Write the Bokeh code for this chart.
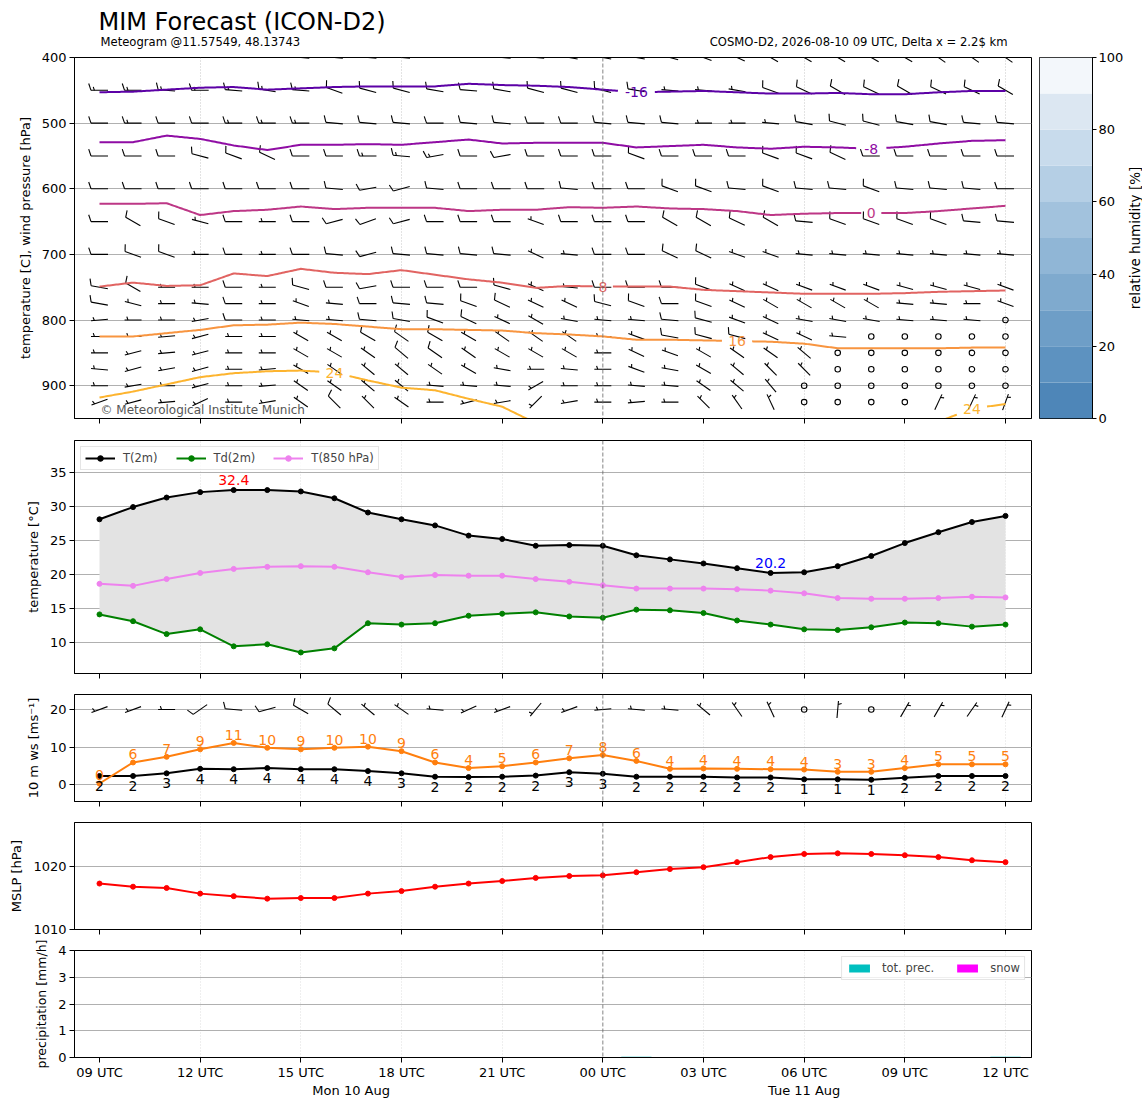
import math
import numpy as np
from bokeh.plotting import figure
from bokeh.models import Range1d, FixedTicker, Label, Span, LinearAxis
from bokeh.layouts import column, row
from bokeh.embed import file_html
from bokeh.resources import INLINE
from bokeh.core.properties import value

FONT = "DejaVu Sans"

# ---------------- data ----------------
lead_h = [0, 1, 2, 3, 4, 5, 6, 7, 8, 9, 10, 11, 12, 13, 14, 15, 16, 17, 18, 19, 20, 21, 22, 23, 24, 25, 26, 27]
tick_hours = [0, 3, 6, 9, 12, 15, 18, 21, 24, 27]
tick_labels = ["09 UTC", "12 UTC", "15 UTC", "18 UTC", "21 UTC", "00 UTC", "03 UTC", "06 UTC", "09 UTC", "12 UTC"]
midnight_h = 15
day_labels = ["Mon 10 Aug", "Tue 11 Aug"]
day_label_h = [7.5, 21.0]

title_text = "MIM Forecast (ICON-D2)"
subtitle_left = "Meteogram @11.57549, 48.13743"
subtitle_right = "COSMO-D2, 2026-08-10 09 UTC, Delta x = 2.2$ km"
copyright_text = "\u00a9 Meteorological Institute Munich"
rh_label = "relative humidity [%]"

t2m = [28.1, 29.9, 31.3, 32.1, 32.4, 32.4, 32.2, 31.2, 29.1, 28.1, 27.2, 25.7, 25.2, 24.2,
       24.3, 24.2, 22.8, 22.2, 21.6, 20.9, 20.2, 20.3, 21.2, 22.7, 24.6, 26.2, 27.7, 28.6]
td2m = [14.1, 13.1, 11.2, 11.9, 9.4, 9.7, 8.5, 9.1, 12.8, 12.6, 12.8, 13.9, 14.2, 14.4,
        13.8, 13.6, 14.8, 14.7, 14.3, 13.2, 12.6, 11.9, 11.8, 12.2, 12.9, 12.8, 12.3, 12.6]
t850 = [18.6, 18.3, 19.3, 20.2, 20.8, 21.1, 21.2, 21.1, 20.3, 19.6, 19.9, 19.8, 19.8, 19.3,
        18.9, 18.4, 17.9, 17.9, 17.9, 17.8, 17.6, 17.2, 16.5, 16.4, 16.4, 16.5, 16.7, 16.6]
ws10 = [2.3, 2.3, 3.0, 4.2, 4.1, 4.4, 4.1, 4.1, 3.6, 3.0, 2.1, 2.0, 2.1, 2.4,
        3.3, 2.9, 2.1, 2.1, 2.1, 1.9, 1.9, 1.4, 1.4, 1.3, 1.8, 2.3, 2.3, 2.3]
gust10 = [0.3, 5.9, 7.4, 9.4, 11.1, 9.8, 9.4, 9.8, 10.1, 8.9, 5.9, 4.4, 4.9, 5.9,
          7.0, 7.9, 6.3, 4.2, 4.3, 4.2, 4.1, 4.0, 3.4, 3.4, 4.4, 5.4, 5.4, 5.4]
mslp = [1017.3, 1016.8, 1016.6, 1015.7, 1015.3, 1014.9, 1015.0, 1015.0, 1015.7, 1016.1,
        1016.8, 1017.3, 1017.7, 1018.2, 1018.5, 1018.6, 1019.1, 1019.6, 1019.9, 1020.7,
        1021.5, 1022.0, 1022.1, 1022.0, 1021.8, 1021.5, 1021.0, 1020.7]
tot_prec = [0, 0, 0, 0, 0, 0, 0, 0, 0, 0, 0, 0, 0, 0, 0, 0, 0.03, 0, 0, 0, 0, 0, 0, 0, 0, 0, 0, 0.03]
snow = [0, 0, 0, 0, 0, 0, 0, 0, 0, 0, 0, 0, 0, 0, 0, 0, 0, 0, 0, 0, 0, 0, 0, 0, 0, 0, 0, 0]

# isotherms (pressure in hPa of each isotherm per hour)
nan = float("nan")
iso_levels = [-16, -8, 0, 8, 16, 24]
iso_m16 = [453, 452, 449, 446, 445, 449, 447, 445, 444, 444, 444, 440, 442, 443, 445, 449, 453, 452, 451, 453, 455, 455, 454, 456, 456, 453, 451, 451]
iso_m8 = [529, 529, 519, 524, 534, 541, 533, 533, 532, 533, 529, 525, 531, 530, 530, 530, 537, 535, 533, 537, 539, 536, 537, 539, 536, 531, 527, 526]
iso_0 = [623, 623, 622, 640, 634, 632, 627, 631, 629, 629, 629, 634, 632, 632, 628, 629, 627, 630, 631, 634, 640, 638, 637, 637, 637, 634, 630, 626]
iso_8 = [749, 743, 748, 747, 729, 733, 722, 728, 730, 724, 731, 738, 743, 751, 748, 749, 749, 749, 754, 756, 758, 760, 760, 760, 759, 757, 756, 755]
iso_16 = [825, 825, 820, 815, 808, 807, 804, 806, 810, 814, 814, 815, 816, 820, 822, 825, 830, 830, 831, 832, 833, 836, 843, 843, 843, 843, 842, 842]
iso_24 = [918, 909, 898, 887, 881, 878, 877, 880, 892, 903, 907, 920, 932, 957, nan, nan, nan, nan, nan, nan, nan, nan, nan, nan, nan, 955, 935, 928]
iso_lines = [iso_m16, iso_m8, iso_0, iso_8, iso_16, iso_24]
iso_label_cols = [[16], [23], [23], [15], [19], [7, 26]]
iso_colors = ["#5c01a6", "#8f0da4", "#bd3786", "#e16462", "#f89540", "#fdb42f"]

# wind barbs: direction the wind blows from (deg) and speed (barb units: 5 = half, 10 = full, 0 = calm)
barb_levels = [400, 450, 500, 550, 600, 650, 700, 750, 775, 800, 825, 850, 875, 900, 925]
wdir_400 = [270, 270, 270, 270, 270, 270, 275, 275, 275, 275, 270, 270, 275, 275, 280, 280, 280, 285, 290, 295, 300, 300, 300, 300, 300, 305, 305, 305]
wspd_400 = [10, 10, 10, 10, 10, 10, 10, 10, 10, 10, 10, 10, 10, 10, 10, 10, 10, 10, 10, 10, 10, 10, 10, 10, 10, 10, 10, 10]
wdir_450 = [270, 270, 275, 270, 275, 280, 275, 290, 285, 285, 280, 275, 280, 285, 285, 285, 280, 275, 275, 280, 290, 295, 300, 295, 300, 295, 295, 300]
wspd_450 = [15, 15, 15, 15, 15, 15, 15, 10, 10, 10, 10, 10, 10, 10, 10, 10, 10, 5, 5, 5, 10, 10, 10, 10, 10, 10, 10, 10]
wdir_500 = [270, 270, 270, 270, 270, 270, 270, 275, 275, 275, 270, 275, 275, 270, 270, 275, 275, 275, 270, 270, 275, 280, 285, 285, 280, 280, 275, 275]
wspd_500 = [10, 15, 10, 10, 15, 15, 15, 10, 10, 10, 10, 10, 10, 10, 10, 10, 10, 10, 5, 5, 5, 10, 10, 10, 10, 10, 10, 10]
wdir_550 = [270, 270, 270, 285, 290, 295, 270, 270, 270, 275, 260, 270, 260, 270, 270, 270, 290, 270, 270, 270, 290, 290, 295, 270, 270, 270, 270, 270]
wspd_550 = [10, 10, 10, 10, 10, 10, 10, 10, 15, 15, 15, 10, 10, 10, 10, 10, 10, 10, 10, 10, 10, 10, 10, 10, 10, 10, 10, 10]
wdir_600 = [270, 270, 270, 270, 270, 270, 270, 275, 260, 255, 275, 270, 270, 270, 275, 270, 270, 290, 290, 275, 290, 275, 275, 290, 275, 275, 275, 270]
wspd_600 = [10, 10, 10, 10, 10, 10, 10, 10, 10, 10, 10, 10, 10, 10, 10, 10, 10, 10, 10, 10, 10, 10, 10, 10, 10, 10, 10, 10]
wdir_650 = [270, 300, 290, 285, 270, 270, 270, 255, 250, 255, 270, 270, 270, 290, 270, 270, 270, 300, 300, 295, 300, 275, 290, 290, 290, 290, 275, 275]
wspd_650 = [10, 10, 10, 5, 10, 5, 10, 10, 10, 10, 10, 10, 10, 5, 10, 10, 10, 10, 10, 10, 10, 10, 10, 10, 10, 10, 10, 10]
wdir_700 = [270, 290, 290, 270, 270, 270, 270, 275, 255, 275, 275, 275, 275, 295, 275, 270, 270, 295, 295, 290, 290, 275, 275, 275, 275, 275, 275, 275]
wspd_700 = [10, 10, 10, 5, 10, 5, 10, 10, 10, 10, 10, 10, 10, 5, 5, 10, 10, 10, 10, 5, 5, 5, 5, 5, 5, 5, 5, 5]
wdir_750 = [280, 300, 270, 270, 270, 270, 285, 270, 260, 270, 270, 270, 285, 295, 275, 270, 270, 270, 290, 295, 295, 290, 290, 290, 285, 285, 285, 290]
wspd_750 = [10, 10, 5, 5, 10, 5, 10, 10, 10, 10, 10, 10, 10, 5, 5, 10, 10, 10, 10, 5, 5, 5, 5, 5, 5, 5, 5, 5]
wdir_775 = [280, 285, 270, 275, 270, 270, 290, 275, 270, 275, 275, 290, 295, 295, 295, 285, 290, 270, 290, 295, 300, 300, 300, 300, 275, 275, 270, 290]
wspd_775 = [10, 5, 5, 5, 10, 5, 5, 5, 10, 10, 10, 10, 10, 5, 5, 10, 10, 10, 10, 5, 5, 5, 5, 5, 5, 5, 5, 5]
wdir_800 = [265, 270, 270, 260, 270, 270, 275, 275, 275, 280, 290, 295, 295, 300, 280, 275, 275, 275, 285, 290, 295, 280, 280, 280, 275, 275, 275, 0]
wspd_800 = [5, 5, 5, 5, 10, 5, 5, 5, 10, 10, 10, 10, 5, 5, 5, 5, 5, 10, 10, 5, 5, 5, 5, 5, 5, 5, 5, 0]
wdir_825 = [270, 270, 265, 255, 270, 270, 300, 300, 300, 305, 300, 300, 305, 305, 305, 270, 290, 280, 285, 285, 295, 295, 275, 0, 0, 0, 0, 0]
wspd_825 = [5, 5, 5, 5, 5, 5, 5, 5, 10, 10, 10, 5, 5, 5, 5, 5, 5, 10, 10, 10, 5, 5, 5, 0, 0, 0, 0, 0]
wdir_850 = [270, 255, 265, 255, 270, 270, 300, 300, 305, 310, 305, 305, 300, 300, 300, 270, 295, 290, 300, 305, 305, 310, 0, 0, 0, 0, 0, 0]
wspd_850 = [5, 5, 5, 5, 5, 5, 5, 5, 5, 10, 10, 5, 5, 5, 5, 5, 5, 5, 5, 5, 5, 5, 0, 0, 0, 0, 0, 0]
wdir_875 = [275, 255, 260, 255, 270, 265, 300, 305, 310, 310, 305, 300, 280, 270, 275, 270, 290, 280, 300, 310, 315, 315, 0, 0, 0, 0, 0, 0]
wspd_875 = [5, 5, 5, 5, 5, 5, 5, 5, 5, 5, 5, 5, 5, 5, 5, 5, 5, 5, 5, 5, 5, 5, 0, 0, 0, 0, 0, 0]
wdir_900 = [270, 260, 270, 255, 270, 265, 305, 305, 310, 310, 275, 275, 275, 240, 270, 270, 275, 275, 305, 310, 320, 0, 0, 0, 0, 0, 0, 0]
wspd_900 = [5, 5, 5, 5, 5, 5, 5, 5, 5, 5, 5, 5, 5, 5, 5, 5, 5, 5, 5, 5, 5, 0, 0, 0, 0, 0, 0, 0]
wdir_925 = [250, 255, 265, 245, 270, 260, 305, 315, 315, 305, 270, 255, 260, 225, 260, 270, 265, 270, 315, 325, 335, 0, 0, 0, 0, 25, 25, 20]
wspd_925 = [5, 5, 5, 5, 5, 5, 5, 10, 5, 5, 5, 5, 5, 5, 5, 5, 5, 5, 5, 5, 5, 0, 0, 0, 0, 5, 5, 5]
barb_dirs = [wdir_400, wdir_450, wdir_500, wdir_550, wdir_600, wdir_650, wdir_700, wdir_750,
             wdir_775, wdir_800, wdir_825, wdir_850, wdir_875, wdir_900, wdir_925]
barb_spds = [wspd_400, wspd_450, wspd_500, wspd_550, wspd_600, wspd_650, wspd_700, wspd_750,
             wspd_775, wspd_800, wspd_825, wspd_850, wspd_875, wspd_900, wspd_925]
wdir_10m = [250, 250, 270, 235, 275, 255, 300, 310, 310, 305, 275, 245, 250, 220, 250, 265, 275, 275, 310, 325, 335, 0, 5, 0, 30, 30, 35, 25]
wspd_10m = [5, 5, 5, 10, 10, 10, 10, 10, 5, 5, 5, 5, 5, 5, 5, 5, 5, 5, 5, 5, 5, 0, 5, 0, 5, 5, 5, 5]

rh_levels = [0, 10, 20, 30, 40, 50, 60, 70, 80, 90, 100]
rh_ticks = [0, 20, 40, 60, 80, 100]
rh_colors = ["#4e86b8", "#5d92c0", "#6e9ec7", "#7faace", "#90b6d6", "#a2c2dd", "#b5cfe5",
             "#c8dbec", "#dce7f2", "#f3f7fb"]

for arr in [t2m, td2m, t850, ws10, gust10, mslp, tot_prec, snow, wdir_10m, wspd_10m] + iso_lines + barb_dirs + barb_spds:
    assert len(arr) == 28

# ---------------- layout constants ----------------
LEFT = 74
FW = 957
X0, X1 = -0.745, 27.775
FH = [361, 233, 107, 107, 107]
xr = Range1d(X0, X1)
KX = FW / (X1 - X0)  # px per hour

BARB_LEN = 17.0
BARB_H = 6.8
BARB_LEAN = 2.3
BARB_STEP = 3.4


def style_axis(ax, size="13px"):
    ax.axis_line_color = "black"
    ax.major_tick_line_color = "black"
    ax.minor_tick_line_color = None
    ax.major_tick_out = 5
    ax.major_tick_in = 0
    ax.major_label_text_font = FONT
    ax.major_label_text_font_size = size
    ax.major_label_text_color = "black"
    ax.axis_label_text_font = FONT
    ax.axis_label_text_font_size = "13px"
    ax.axis_label_text_font_style = "normal"
    ax.axis_label_text_color = "black"
    ax.major_label_standoff = 3
    ax.axis_label_standoff = 6


def style(p, xlabels=False):
    p.outline_line_color = "black"
    p.outline_line_width = 1
    p.outline_line_alpha = 1
    for ax in p.yaxis:
        style_axis(ax)
    for ax in p.xaxis:
        style_axis(ax)
        ax.ticker = FixedTicker(ticks=tick_hours)
        if xlabels:
            ax.major_label_overrides = {h: lab for h, lab in zip(tick_hours, tick_labels)}
            ax.major_label_standoff = 2
        else:
            ax.major_label_text_color = None
            ax.major_label_text_font_size = "1px"
            ax.major_label_standoff = 0
    p.ygrid.grid_line_color = "#b0b0b0"
    p.ygrid.grid_line_width = 1
    p.xgrid.grid_line_color = "#d6d6d6"
    p.xgrid.grid_line_dash = "1 2"
    p.xgrid.grid_line_width = 0.8
    p.xgrid.ticker = FixedTicker(ticks=[h for h in tick_hours if h not in (0, midnight_h)])
    p.add_layout(Span(location=midnight_h, dimension="height", line_color="#666666",
                      line_dash="4 2", line_width=0.8))


def make_fig(i, yr, top, bottom, right=2):
    return figure(frame_width=FW, frame_height=FH[i], x_range=xr, y_range=yr,
                  min_border_left=LEFT, min_border_right=right, min_border_top=top,
                  min_border_bottom=bottom, toolbar_location=None, output_backend="svg")


def barb_paths(xc, yc, ddeg, spd, kx, ky, xs, ys):
    th = np.deg2rad(ddeg)
    dx, dy = np.sin(th), np.cos(th)
    nx, ny = dy, -dx

    def P(px, py):
        return xc + px / kx, yc + py / ky

    ex, ey = 0.5 * BARB_LEN * dx, 0.5 * BARB_LEN * dy
    a, b = P(-ex, -ey), P(ex, ey)
    xs.append([a[0], b[0]]); ys.append([a[1], b[1]])
    nfull, rem = divmod(int(spd), 10)
    off = 0.0
    for _ in range(nfull):
        bx, by = ex - off * dx, ey - off * dy
        f = P(bx + BARB_H * nx + BARB_LEAN * dx, by + BARB_H * ny + BARB_LEAN * dy)
        bb = P(bx, by)
        xs.append([bb[0], f[0]]); ys.append([bb[1], f[1]])
        off += BARB_STEP
    if rem >= 5:
        if nfull == 0:
            off = BARB_STEP
        bx, by = ex - off * dx, ey - off * dy
        f = P(bx + 0.5 * BARB_H * nx + 0.5 * BARB_LEAN * dx, by + 0.5 * BARB_H * ny + 0.5 * BARB_LEAN * dy)
        bb = P(bx, by)
        xs.append([bb[0], f[0]]); ys.append([bb[1], f[1]])


def draw_barbs(p, xpos, ypos_list, dirs, spds, kx, ky):
    xs, ys, cx, cy = [], [], [], []
    for x, y, d, s in zip(xpos, ypos_list, dirs, spds):
        if s <= 0:
            cx.append(x); cy.append(y)
        else:
            barb_paths(x, y, d, s, kx, ky, xs, ys)
    p.multi_line(xs, ys, line_color="black", line_width=1.1)
    if cx:
        p.scatter(cx, cy, marker="circle", size=5.5, fill_color=None, line_color="black", line_width=1.1)


# ---------------- header (title texts) ----------------
HEAD_H = 49
head = figure(frame_width=FW, frame_height=HEAD_H, x_range=Range1d(0, FW), y_range=Range1d(0, HEAD_H),
              min_border_left=LEFT, min_border_right=2, min_border_top=0, min_border_bottom=0,
              x_axis_location=None, y_axis_location=None, toolbar_location=None,
              output_backend="svg")
head.outline_line_color = None
head.grid.visible = False
head.text([24], [28], text=[title_text], text_font=value(FONT), text_font_size="24px",
          text_color="black", text_baseline="alphabetic", text_align="left")
head.text([26], [8], text=[subtitle_left], text_font=value(FONT), text_font_size="11.6px",
          text_color="black", text_baseline="alphabetic", text_align="left")
head.text([FW - 24], [8], text=[subtitle_right], text_font=value(FONT), text_font_size="11.6px",
          text_color="black", text_baseline="alphabetic", text_align="right")

# ---------------- panel 1: isotherms + wind barbs ----------------
P_BOT, P_TOP = 950, 400
p1 = make_fig(0, Range1d(P_BOT, P_TOP), top=8, bottom=11)
style(p1)
p1.yaxis.ticker = FixedTicker(ticks=[400, 500, 600, 700, 800, 900])
p1.yaxis.axis_label = "temperature [C], wind pressure [hPa]"
p1.xgrid.ticker = FixedTicker(ticks=[3, 9, 21, 27])
p1.xgrid.grid_line_color = "#b8b8b8"
KY1 = -FH[0] / (P_BOT - P_TOP)
for lev, dirs, spds in zip(barb_levels, barb_dirs, barb_spds):
    draw_barbs(p1, lead_h, [lev] * len(lead_h), dirs, spds, KX, KY1)

xf = np.linspace(lead_h[0], lead_h[-1], (len(lead_h) - 1) * 20 + 1)
for lev, vals, cols, col in zip(iso_levels, iso_lines, iso_label_cols, iso_colors):
    yf = np.interp(xf, lead_h, np.array(vals, dtype=float))
    txt = str(lev)
    half = (5 + 4.3 * len(txt)) / KX
    for c in cols:
        yf = np.where(np.abs(xf - lead_h[c]) < half, np.nan, yf)
    p1.line(xf, yf, line_color=col, line_width=2)
    p1.text([lead_h[c] for c in cols], [vals[c] for c in cols], text=[txt] * len(cols),
            text_color=col, text_font=value(FONT), text_font_size="14px",
            text_align="center", text_baseline="middle")

p1.add_layout(Label(x=26, y=2, x_units="screen", y_units="screen",
                    text=copyright_text, text_font=FONT,
                    text_font_size="12px", text_color="#555555", text_baseline="bottom"))

# colorbar
cb = figure(frame_width=53, frame_height=FH[0], x_range=Range1d(0, 1),
            y_range=Range1d(rh_levels[0], rh_levels[-1]), min_border_left=6, min_border_right=26,
            min_border_top=8, min_border_bottom=11, x_axis_location=None, y_axis_location="right",
            toolbar_location=None, output_backend="svg")
cb.quad(left=0, right=1, bottom=rh_levels[:-1], top=rh_levels[1:], fill_color=rh_colors, line_color=None)
cb.grid.visible = False
cb.outline_line_color = "black"
cb.yaxis.ticker = FixedTicker(ticks=rh_ticks)
ax = cb.yaxis[0]
style_axis(ax)
ax.major_tick_out = 4
ax.major_label_standoff = 2

# colorbar label (separate narrow canvas so the text reads bottom-to-top)
cbl = figure(frame_width=16, frame_height=FH[0], x_range=Range1d(0, 1), y_range=Range1d(0, 1),
             min_border_left=0, min_border_right=0, min_border_top=8, min_border_bottom=11,
             x_axis_location=None, y_axis_location=None, toolbar_location=None, output_backend="svg")
cbl.outline_line_color = None
cbl.grid.visible = False
cbl.text([0.5], [0.5], text=[rh_label], angle=math.pi / 2, text_font=value(FONT),
         text_font_size="13.5px", text_color="black", text_align="center", text_baseline="middle")

# ---------------- panel 2: temperatures ----------------
p2 = make_fig(1, Range1d(5.4, 39.7), top=11, bottom=10)
style(p2)
p2.yaxis.ticker = FixedTicker(ticks=[10, 15, 20, 25, 30, 35])
p2.yaxis.axis_label = "temperature [\u00b0C]"
p2.varea(x=lead_h, y1=td2m, y2=t2m, fill_color="#e3e3e3")
for vals, col, lab in [(t2m, "black", "T(2m)"), (td2m, "green", "Td(2m)"), (t850, "violet", "T(850 hPa)")]:
    p2.line(lead_h, vals, line_color=col, line_width=2, legend_label=lab)
    p2.scatter(lead_h, vals, marker="circle", size=5, fill_color=col, line_color=col, legend_label=lab)
imax = int(np.argmax(t2m))
imin = int(np.argmin(t2m))
p2.text([lead_h[imax]], [t2m[imax]], text=["%.1f" % t2m[imax]], text_color="red",
        text_font=value(FONT), text_font_size="14px", text_align="center",
        text_baseline="bottom", y_offset=-5)
p2.text([lead_h[imin]], [t2m[imin]], text=["%.1f" % t2m[imin]], text_color="blue",
        text_font=value(FONT), text_font_size="14px", text_align="center",
        text_baseline="bottom", y_offset=-5)
lg = p2.legend[0]
lg.location = "top_left"
lg.orientation = "horizontal"
lg.margin = 6
lg.padding = 4
lg.spacing = 18
lg.glyph_width = 30
lg.glyph_height = 14
lg.label_standoff = 8
lg.label_text_font = FONT
lg.label_text_font_size = "11.5px"
lg.border_line_color = "#cccccc"
lg.background_fill_alpha = 0.8

# ---------------- panel 3: 10 m wind ----------------
p3 = make_fig(2, Range1d(-4.5, 24), top=11, bottom=9)
style(p3)
p3.yaxis.ticker = FixedTicker(ticks=[0, 10, 20])
p3.yaxis.axis_label = "10 m ws [ms\u207b\u00b9]"
KY3 = FH[2] / (24 - (-4.5))
BARB10_Y = 20
draw_barbs(p3, lead_h, [BARB10_Y] * len(lead_h), wdir_10m, wspd_10m, KX, KY3)
p3.line(lead_h, ws10, line_color="black", line_width=2)
p3.scatter(lead_h, ws10, marker="circle", size=5, fill_color="black", line_color="black")
p3.line(lead_h, gust10, line_color="#ff7f0e", line_width=2)
p3.scatter(lead_h, gust10, marker="circle", size=5, fill_color="#ff7f0e", line_color="#ff7f0e")
p3.text(lead_h, ws10, text=[str(int(round(v))) for v in ws10], text_color="black",
        text_font=value(FONT), text_font_size="14px", text_align="center",
        text_baseline="top", y_offset=5)
p3.text(lead_h, gust10, text=[str(int(round(v))) for v in gust10], text_color="#ff7f0e",
        text_font=value(FONT), text_font_size="14px", text_align="center",
        text_baseline="bottom", y_offset=-3)

# ---------------- panel 4: MSLP ----------------
p4 = make_fig(3, Range1d(1010, 1027), top=12, bottom=8)
style(p4)
p4.yaxis.ticker = FixedTicker(ticks=[1010, 1020])
p4.yaxis.axis_label = "MSLP [hPa]"
p4.line(lead_h, mslp, line_color="red", line_width=2)
p4.scatter(lead_h, mslp, marker="circle", size=5, fill_color="red", line_color="red")

# ---------------- panel 5: precipitation ----------------
p5 = make_fig(4, Range1d(0, 4), top=13, bottom=40)
style(p5, xlabels=True)
p5.yaxis.ticker = FixedTicker(ticks=[0, 1, 2, 3, 4])
p5.yaxis.axis_label = "precipitation [mm/h]"
p5.yaxis.axis_label_text_font_size = "12.5px"
p5.vbar(x=lead_h, top=tot_prec, width=0.9, fill_color="#00bfbf", line_color=None, legend_label="tot. prec.")
p5.vbar(x=lead_h, top=snow, width=0.9, fill_color="magenta", line_color=None, legend_label="snow")
lg5 = p5.legend[0]
lg5.location = "top_right"
lg5.orientation = "horizontal"
lg5.margin = 6
lg5.padding = 4
lg5.spacing = 20
lg5.glyph_width = 26
lg5.glyph_height = 10
lg5.label_standoff = 10
lg5.label_text_font = FONT
lg5.label_text_font_size = "11.5px"
lg5.border_line_color = "#cccccc"
lg5.background_fill_alpha = 0.8
day_axis = LinearAxis(ticker=FixedTicker(ticks=day_label_h),
                      major_label_overrides={h: lab for h, lab in zip(day_label_h, day_labels)})
style_axis(day_axis)
day_axis.axis_line_color = None
day_axis.major_tick_line_color = None
day_axis.major_tick_out = 0
day_axis.major_label_standoff = 0
p5.add_layout(day_axis, "below")

layout = column(head, row(p1, cb, cbl), p2, p3, p4, p5)
open("out.html", "w").write(file_html(layout, INLINE))
